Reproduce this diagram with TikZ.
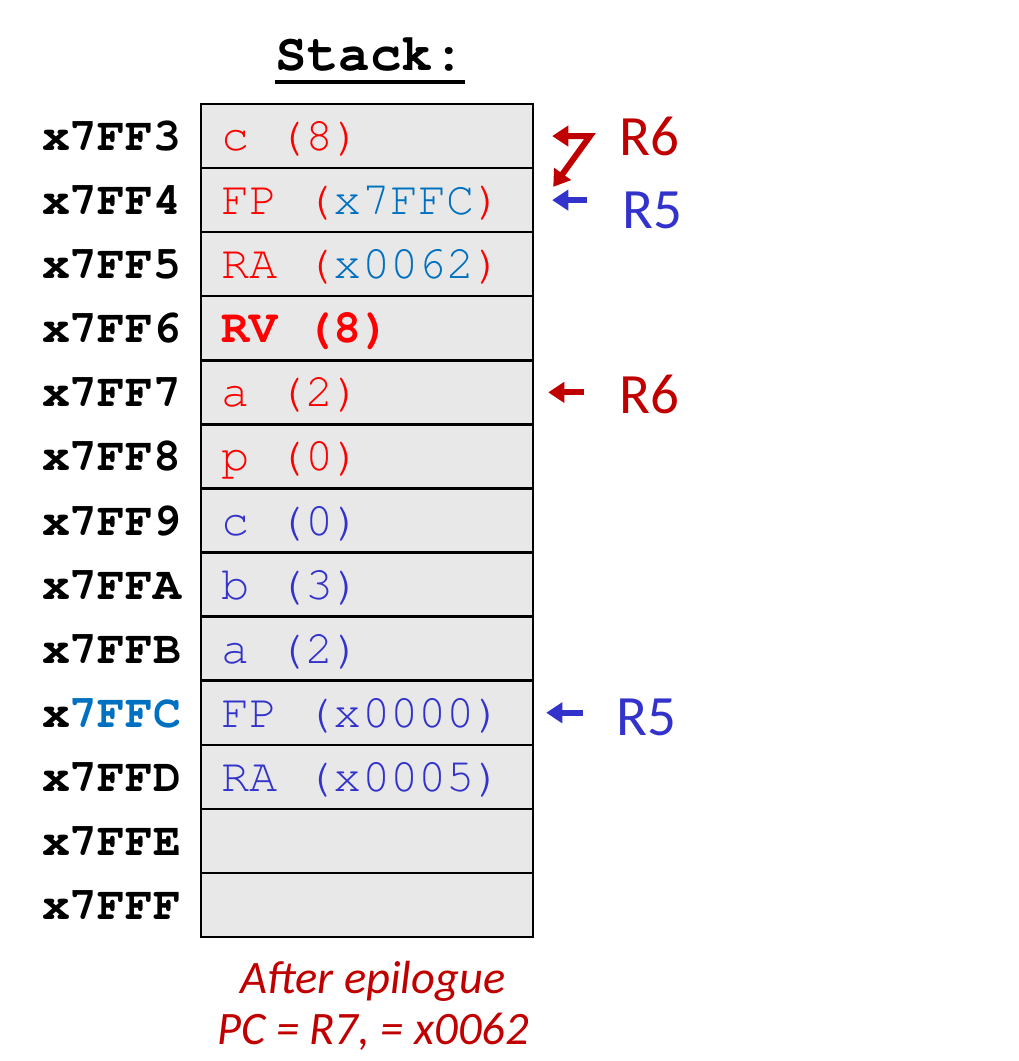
\documentclass[tikz,border=0pt]{standalone}
\usepackage{fontspec}
\setmainfont{Carlito}
\setmonofont{texgyrecursor}[Extension = .otf, UprightFont = *-regular, BoldFont = *-bold]
\usetikzlibrary{arrows.meta}
\definecolor{regred}{HTML}{C00000}
\definecolor{regblue}{HTML}{3333CC}
\definecolor{valred}{HTML}{FF0000}
\definecolor{valblue}{HTML}{0070C0}
\definecolor{cellgray}{HTML}{E8E8E8}
\newcommand{\cellfont}{\ttfamily\fontsize{47}{50}\selectfont}
\newcommand{\addrfont}{\ttfamily\bfseries\fontsize{46.5}{50}\selectfont}
\newcommand{\regfont}{\fontsize{57}{60}\selectfont}
\begin{document}
\begin{tikzpicture}[
              x = 1pt, y = -1pt,
              cell/.style = {draw, line width = 2.5pt, fill = cellgray, text width = 292pt,
                             inner xsep = 20pt, inner ysep = 0pt, minimum height = 64.08pt,
                             text height = 40pt, text depth = 11pt, align = flush left, font = \cellfont},
              addr/.style = {anchor = base east, inner sep = 0pt, font = \addrfont},
              reg/.style  = {anchor = base west, inner sep = 0pt, font = \regfont},
              ptr/.style  = {-{Triangle[length = 16pt, width = 20pt]}, line width = 6pt}
            ]
            \useasboundingbox (0, 0) rectangle (1019, 1061);
            % title
            \node[anchor = base, inner sep = 0pt, font = \ttfamily\bfseries\fontsize{52.5}{55}\selectfont] (title) at (370, 70) {Stack:};
            \draw[line width = 4pt] ([yshift = -12pt]title.base west) -- ([yshift = -12pt]title.base east);
            % the stack
            \node[cell, text = valred]  (c1)  at (367, 136.04) {c (8)};
            \node[cell, text = valred]  (c2)  at (367, 200.12) {FP (\textcolor{valblue}{x7FFC})};
            \node[cell, text = valred]  (c3)  at (367, 264.20) {RA (\textcolor{valblue}{x0062})};
            \node[cell, text = valred]  (c4)  at (367, 328.28) {\bfseries RV (8)};
            \node[cell, text = valred]  (c5)  at (367, 392.36) {a (2)};
            \node[cell, text = valred]  (c6)  at (367, 456.44) {p (0)};
            \node[cell, text = regblue] (c7)  at (367, 520.52) {c (0)};
            \node[cell, text = regblue] (c8)  at (367, 584.60) {b (3)};
            \node[cell, text = regblue] (c9)  at (367, 648.68) {a (2)};
            \node[cell, text = regblue] (c10) at (367, 712.76) {FP (x0000)};
            \node[cell, text = regblue] (c11) at (367, 776.84) {RA (x0005)};
            \node[cell]                 (c12) at (367, 840.92) {};
            \node[cell]                 (c13) at (367, 905.00) {};
            % addresses
            \node[addr] (a1)  at ([xshift = -18pt]c1.base west)  {x7FF3};
            \node[addr] (a2)  at ([xshift = -18pt]c2.base west)  {x7FF4};
            \node[addr] (a3)  at ([xshift = -18pt]c3.base west)  {x7FF5};
            \node[addr] (a4)  at ([xshift = -18pt]c4.base west)  {x7FF6};
            \node[addr] (a5)  at ([xshift = -18pt]c5.base west)  {x7FF7};
            \node[addr] (a6)  at ([xshift = -18pt]c6.base west)  {x7FF8};
            \node[addr] (a7)  at ([xshift = -18pt]c7.base west)  {x7FF9};
            \node[addr] (a8)  at ([xshift = -18pt]c8.base west)  {x7FFA};
            \node[addr] (a9)  at ([xshift = -18pt]c9.base west)  {x7FFB};
            \node[addr] (a10) at ([xshift = -18pt]c10.base west) {x\textcolor{valblue}{7FFC}};
            \node[addr] (a11) at ([xshift = -18pt]c11.base west) {x7FFD};
            \node[addr] (a12) at ([xshift = -18pt]c12.base west) {x7FFE};
            \node[addr] (a13) at ([xshift = -18pt]c13.base west) {x7FFF};
            % registers
            \node[reg, text = regred]  (r6old) at (619, 155) {R6};
            \node[reg, text = regblue] (r5old) at (622, 228) {R5};
            \node[reg, text = regred]  (r6new) at (619, 413) {R6};
            \node[reg, text = regblue] (r5new) at (616, 735) {R5};
            % the pointers
            \draw[line width = 6pt, {Triangle[length = 16pt, width = 20pt]}-{Triangle[length = 16pt, width = 20pt]}, regred]
              ([xshift = 18pt]c1.east) -- ([xshift = -29pt]r6old.west |- c1) -- ([xshift = 19pt, yshift = -20pt]c2.north east);
            \draw[ptr, regblue] ([xshift = -35pt]r5old.west |- c2)  -- ([xshift = 18pt]c2.east);
            \draw[ptr, regred]  ([xshift = -35pt]r6new.west |- c5)  -- ([xshift = 14pt]c5.east);
            \draw[ptr, regblue] ([xshift = -33pt]r5new.west |- c10) -- ([xshift = 12pt]c10.east);
            % caption
            \node[align = center, inner sep = 0pt, text = regred, font = \itshape\fontsize{46.5}{51}\selectfont] (note)
              at (373, 1006) {After epilogue\\PC = R7, = x0062};
          \end{tikzpicture}
\end{document}
